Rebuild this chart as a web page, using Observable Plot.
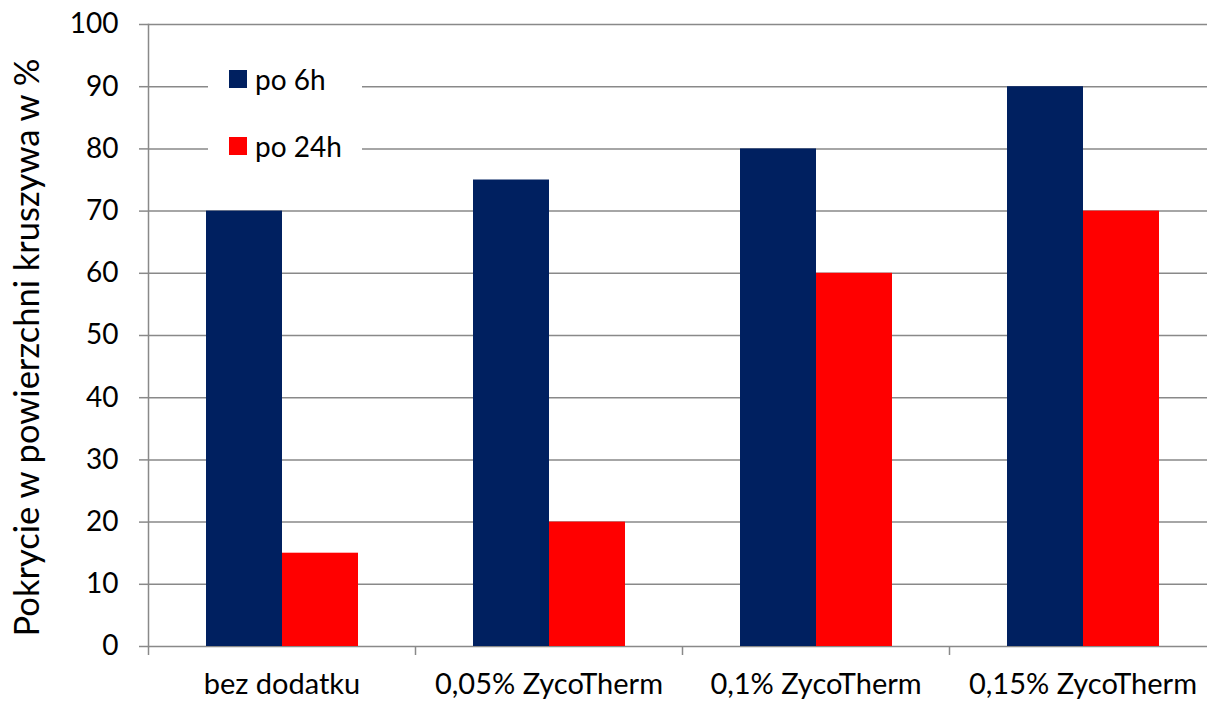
<!DOCTYPE html>
<html>
<head>
<meta charset="utf-8">
<script src="https://cdn.jsdelivr.net/npm/d3@7"></script>
<script src="https://cdn.jsdelivr.net/npm/@observablehq/plot@0.6"></script>
<style>
  html, body { margin: 0; padding: 0; background: #fff; overflow: hidden; }
  #chart { position: relative; width: 1207px; height: 701px; }
  .legend { position: absolute; left: 208px; top: 52px; width: 154px; height: 125px;
            background: #fff; font-family: Lato, sans-serif; font-size: 28px; color: #000; }
  .legend .item { position: absolute; left: 21px; height: 30px; display: flex; align-items: center; }
  .legend .sw { width: 18px; height: 18px; margin-right: 8px; }
</style>
</head>
<body>
<div id="chart"></div>
<script>
// Categories on the x axis
const categories = ["bez dodatku", "0,05% ZycoTherm", "0,1% ZycoTherm", "0,15% ZycoTherm"];
// Series names and colours
const seriesNames = ["po 6h", "po 24h"];
const seriesColors = ["#002060", "#ff0000"];
// Coverage values in % per category
const valuesAfter6h = [70, 75, 80, 90];
const valuesAfter24h = [15, 20, 60, 70];
// Y axis ticks and title
const yTicks = [0, 10, 20, 30, 40, 50, 60, 70, 80, 90, 100];
const yTitle = "Pokrycie w powierzchni kruszywa w %";

const rows6 = categories.map((c, i) => ({category: c, series: seriesNames[0], value: valuesAfter6h[i]}));
const rows24 = categories.map((c, i) => ({category: c, series: seriesNames[1], value: valuesAfter24h[i]}));

const gridColor = "#898989";
const band = (1216 - 148) / categories.length;

const chart = Plot.plot({
  width: 1207,
  height: 701,
  marginLeft: 148,
  marginRight: 0,
  marginTop: 24,
  marginBottom: 55,
  style: {fontFamily: "Lato, sans-serif", fontSize: "28px", color: "#000", background: "#fff"},
  x: {domain: categories, range: [148, 1216], padding: 0, round: false, label: null},
  y: {domain: [0, 100], label: null},
  color: {domain: seriesNames, range: seriesColors},
  marks: [
    Plot.gridY(yTicks, {stroke: gridColor, strokeOpacity: 1, strokeWidth: 1.5}),
    Plot.barY(rows6, {x: "category", y: "value", fill: "series", insetLeft: 58, insetRight: 133}),
    Plot.barY(rows24, {x: "category", y: "value", fill: "series", insetLeft: 134, insetRight: 57}),
    Plot.frame({anchor: "left", stroke: gridColor, strokeWidth: 1.5}),
    // category separator ticks below the baseline
    Plot.ruleX(categories, {x: (d) => d, dx: -band / 2, y1: 0, y2: 0, insetBottom: -9, stroke: gridColor, strokeWidth: 1.5}),
    Plot.axisY(yTicks, {tickSize: 9, tickPadding: 21, stroke: gridColor, strokeWidth: 1.5, strokeOpacity: 1, label: null}),
    Plot.axisX({tickSize: 0, tickPadding: 27, fontSize: 29, label: null}),
    Plot.text([yTitle], {text: (d) => d, frameAnchor: "left", textAnchor: "middle", rotate: -90, dx: -121, dy: 12, fontSize: 34.5})
  ]
});

const root = document.getElementById("chart");
root.appendChild(chart);

// Legend box drawn over the upper left of the plot area
const legend = document.createElement("div");
legend.className = "legend";
seriesNames.forEach((name, i) => {
  const item = document.createElement("div");
  item.className = "item";
  item.style.top = (12 + i * 67) + "px";
  const sw = document.createElement("span");
  sw.className = "sw";
  sw.style.background = seriesColors[i];
  const label = document.createElement("span");
  label.textContent = name;
  item.appendChild(sw);
  item.appendChild(label);
  legend.appendChild(item);
});
root.appendChild(legend);
</script>
</body>
</html>
